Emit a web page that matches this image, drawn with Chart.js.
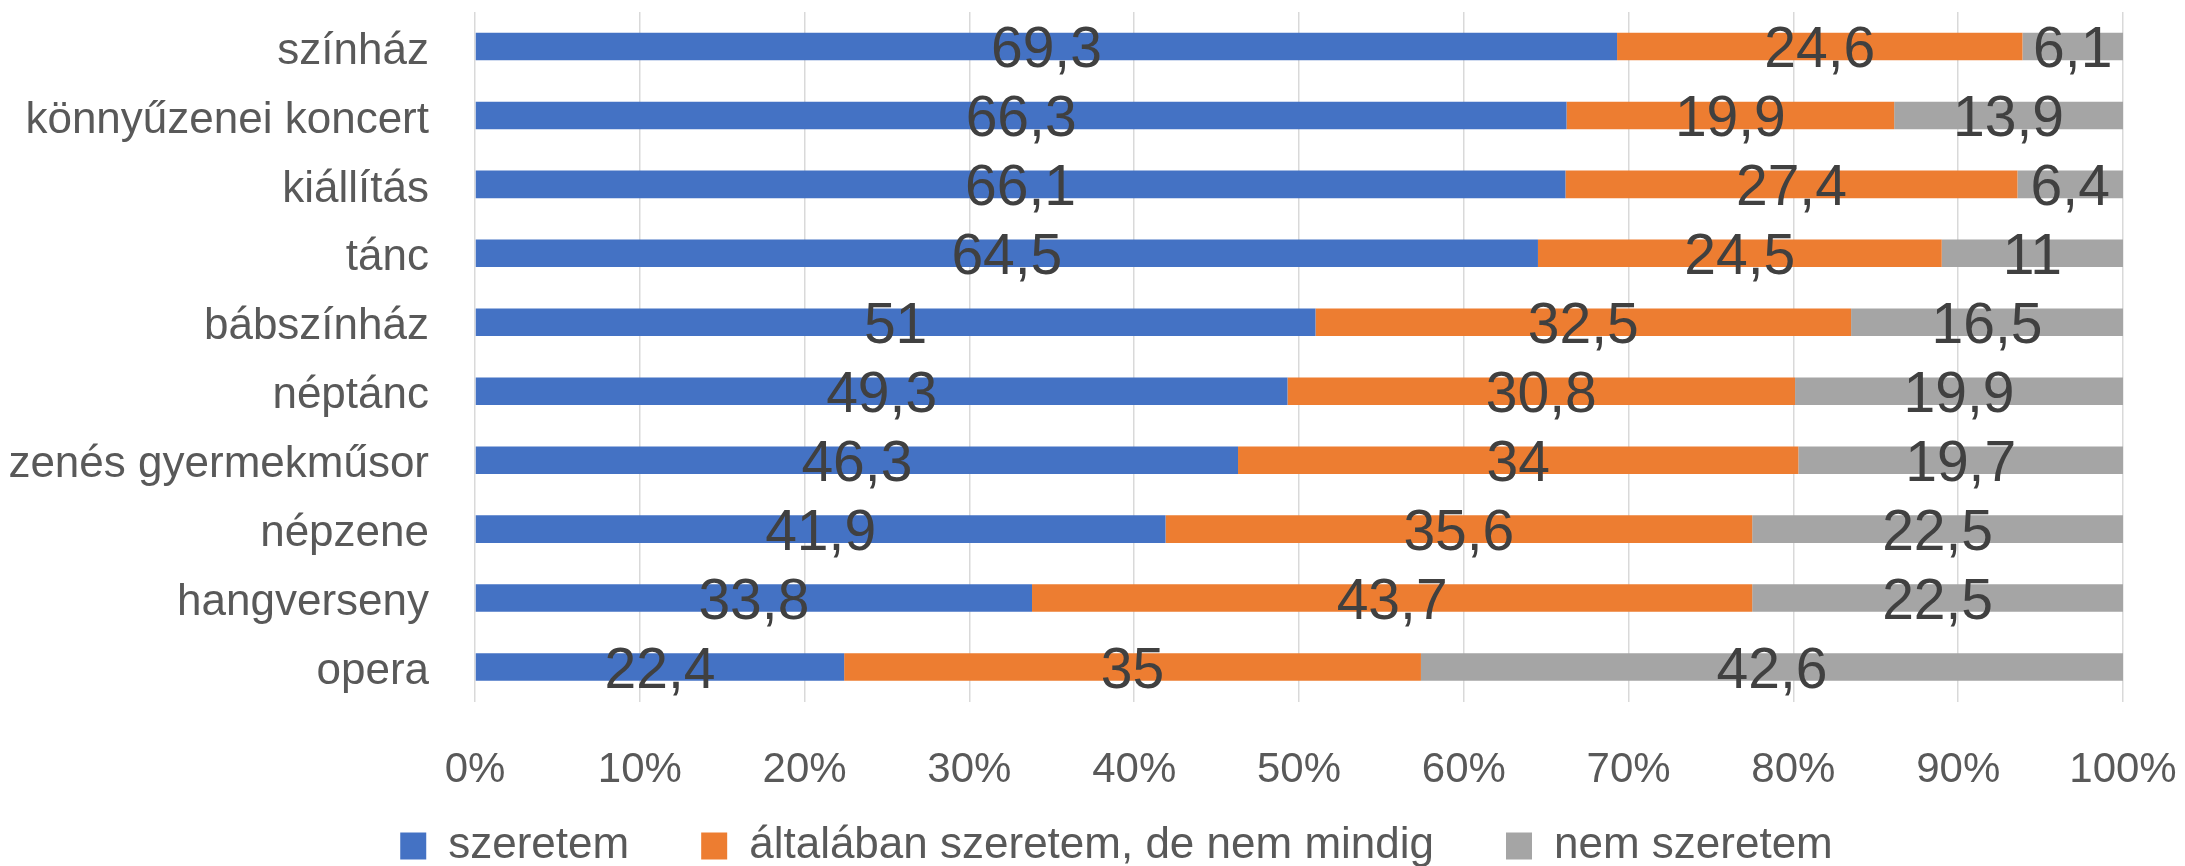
<!DOCTYPE html>
<html><head><meta charset="utf-8">
<script src="https://cdn.jsdelivr.net/npm/chart.js@4/dist/chart.umd.min.js"></script>
<style>html,body{margin:0;padding:0;background:#fff;overflow:hidden}#wrap{width:2185px;height:866px;position:relative}</style>
</head><body><div id="wrap"><canvas id="c" width="2185" height="866"></canvas></div>
<script>
const categories = ['színház','könnyűzenei koncert','kiállítás','tánc','bábszínház','néptánc','zenés gyermekműsor','népzene','hangverseny','opera'];
const seriesNames = ['szeretem','általában szeretem, de nem mindig','nem szeretem'];
const szeretem   = [69.3,66.3,66.1,64.5,51,49.3,46.3,41.9,33.8,22.4];
const altalaban  = [24.6,19.9,27.4,24.5,32.5,30.8,34,35.6,43.7,35];
const nemSzeretem= [6.1,13.9,6.4,11,16.5,19.9,19.7,22.5,22.5,42.6];
const seriesColors = ['#4472C4','#ED7D31','#A5A5A5'];
const xTickValues = [0,10,20,30,40,50,60,70,80,90,100];

const FONT = "'Liberation Sans', Arial, sans-serif";
const series = [szeretem, altalaban, nemSzeretem];
const totals = categories.map((_, i) => series.reduce((s, arr) => s + arr[i], 0));

const datasets = series.map((arr, k) => ({
  label: seriesNames[k],
  raw: arr,
  data: arr.map((v, i) => v / totals[i] * 100),
  backgroundColor: seriesColors[k],
  borderWidth: 0,
  barPercentage: 0.4,
  categoryPercentage: 1.0
}));

const valueLabels = {
  id: 'valueLabels',
  afterDatasetsDraw(chart) {
    const ctx = chart.ctx, area = chart.chartArea;
    ctx.save();
    ctx.font = '57px ' + FONT;
    ctx.fillStyle = '#404040';
    ctx.textAlign = 'center';
    ctx.textBaseline = 'middle';
    chart.data.datasets.forEach((ds, di) => {
      const meta = chart.getDatasetMeta(di);
      meta.data.forEach((bar, i) => {
        const txt = String(ds.raw[i]).replace('.', ',');
        const w = ctx.measureText(txt).width;
        const p = bar.getProps(['x', 'y', 'base'], true);
        let x = (p.x + p.base) / 2;
        if (x + w / 2 > area.right) x = area.right - w / 2;
        ctx.fillText(txt, x, p.y + 5);
      });
    });
    ctx.restore();
  }
};

const legendShift = {
  id: 'legendShift',
  afterLayout(chart) {
    const lg = chart.legend;
    if (lg) { lg.left += 55; lg.right += 55; lg.top = 752; lg.bottom = 866; lg.height = 114; }
  }
};

function zeroPad(scale) { scale.paddingLeft = 0; scale.paddingRight = 0; scale.paddingTop = 0; scale.paddingBottom = 0; }

new Chart(document.getElementById('c'), {
  type: 'bar',
  data: { labels: categories, datasets },
  options: {
    indexAxis: 'y',
    responsive: false,
    devicePixelRatio: 1,
    animation: false,
    layout: { padding: { left: 0, right: 62, top: 12, bottom: 0 } },
    scales: {
      x: {
        stacked: true, min: 0, max: 100,
        afterBuildTicks(scale) { scale.ticks = xTickValues.map(v => ({ value: v })); },
        afterFit(scale) { scale.height = 124.5; zeroPad(scale); },
        grid: { color: '#D9D9D9', lineWidth: 1.5, drawTicks: false },
        border: { display: false },
        ticks: { callback: v => v + '%', color: '#595959', font: { family: FONT, size: 42 }, padding: 44, maxRotation: 0, autoSkip: false }
      },
      y: {
        stacked: true,
        afterFit(scale) { scale.width = 475; zeroPad(scale); },
        grid: { display: false, drawTicks: false },
        border: { display: false },
        ticks: { color: '#595959', font: { family: FONT, size: 44 }, padding: 46, labelOffset: 5, autoSkip: false }
      }
    },
    plugins: {
      legend: {
        position: 'bottom',
        maxHeight: 40,
        labels: { boxWidth: 26, boxHeight: 27, padding: 72, color: '#595959', font: { family: FONT, size: 44 } }
      },
      tooltip: { enabled: false }
    }
  },
  plugins: [valueLabels, legendShift]
});
</script></body></html>
